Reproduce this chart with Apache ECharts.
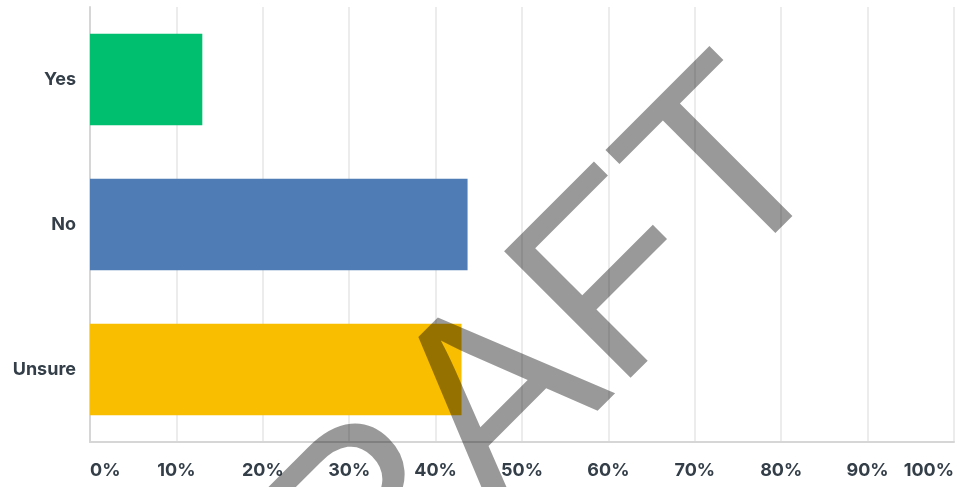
<!DOCTYPE html>
<html>
<head>
<meta charset="utf-8">
<script src="https://cdn.jsdelivr.net/npm/echarts@6/dist/echarts.min.js"></script>
<style>html,body{margin:0;padding:0;background:#fff;}#c{width:957px;height:487px;}</style>
</head>
<body>
<div id="c"></div>
<script>
var categories = ['Yes', 'No', 'Unsure'];
var values = [13.0, 43.7, 43.0];
var barColors = ['#00bf6f', '#507cb6', '#f9be00'];
var xTicks = [0, 10, 20, 30, 40, 50, 60, 70, 80, 90, 100];

var chart = echarts.init(document.getElementById('c'), null, {renderer: 'canvas'});
var labelFont = 'Inter, "Noto Sans", sans-serif';
chart.setOption({
  animation: false,
  grid: {left: 90, right: 2, top: 7, bottom: 45, containLabel: false},
  xAxis: {
    type: 'value', min: xTicks[0], max: xTicks[xTicks.length - 1], interval: 10,
    axisLine: {show: true, lineStyle: {color: '#d6d6d6', width: 2}},
    axisTick: {show: false},
    splitLine: {show: true, lineStyle: {color: '#ececec', width: 2}},
    axisLabel: {
      formatter: function (v) { return v + '%'; },
      color: '#333e48', fontFamily: labelFont, fontWeight: 'bold', fontSize: 18,
      margin: 20, alignMinLabel: 'left', alignMaxLabel: 'right'
    }
  },
  yAxis: {
    type: 'category', data: categories, inverse: true,
    axisLine: {show: true, lineStyle: {color: '#d6d6d6', width: 2}},
    axisTick: {show: false},
    axisLabel: {color: '#333e48', fontFamily: labelFont, fontWeight: 'bold', fontSize: 18, margin: 14}
  },
  series: [{
    type: 'bar',
    data: values.map(function (v, i) { return {value: v, itemStyle: {color: barColors[i]}}; }),
    barCategoryGap: '37%'
  }],
  graphic: [{
    type: 'text', z: 100,
    x: 483, y: 424, rotation: Math.PI / 4,
    style: {
      text: 'DRAFT', fontSize: 260, fontFamily: '"Liberation Sans", Arial, sans-serif',
      fill: 'rgba(0,0,0,0.4)', align: 'center', verticalAlign: 'middle'
    }
  }]
});
</script>
</body>
</html>
